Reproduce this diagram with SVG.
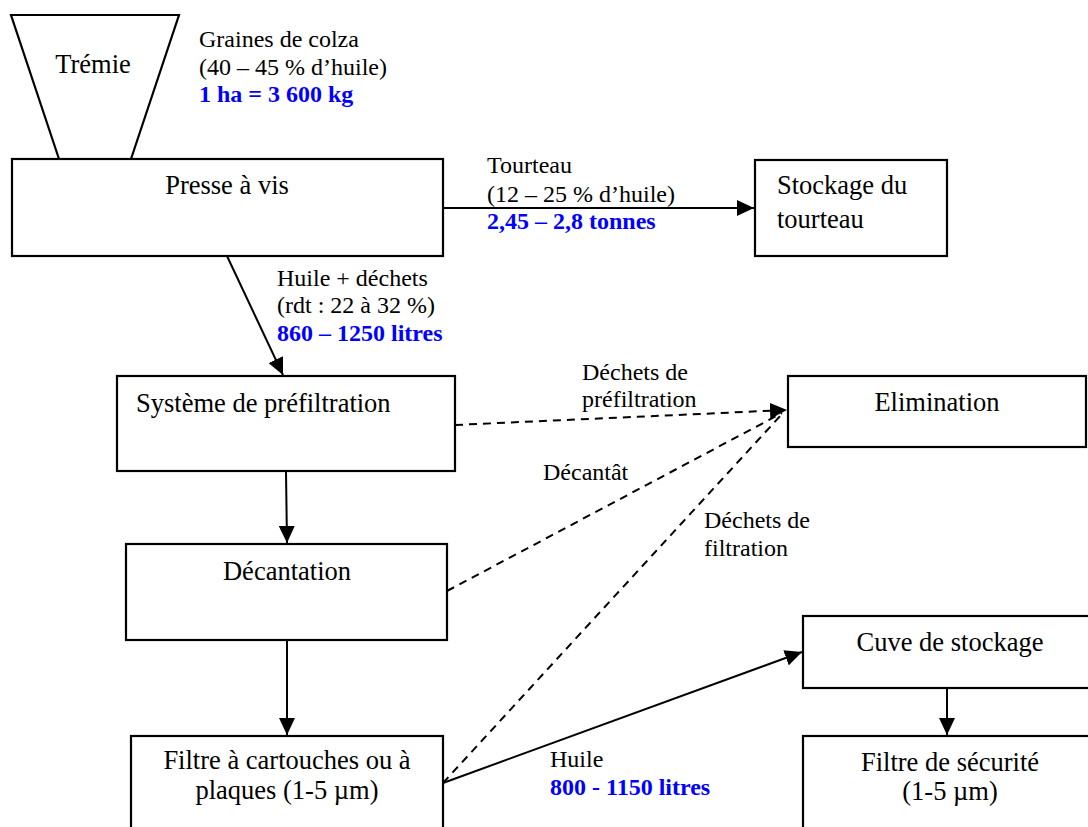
<svg xmlns="http://www.w3.org/2000/svg" width="1088" height="827" viewBox="0 0 1088 827">
<style>
.box{fill:#fff;stroke:#000;stroke-width:2.2}
.main{font-family:"Liberation Serif","Times New Roman",serif;font-size:26.5px;fill:#000}
.lbl{font-family:"Liberation Serif","Times New Roman",serif;font-size:24px;fill:#000}
.blue{font-family:"Liberation Serif","Times New Roman",serif;font-size:24px;font-weight:bold;fill:#0000ff}
.c{text-anchor:middle}
.solid{fill:none;stroke:#000;stroke-width:2}
.dash{fill:none;stroke:#000;stroke-width:2;stroke-dasharray:8,6}
</style>
<defs>
<marker id="arr" markerUnits="userSpaceOnUse" markerWidth="18" markerHeight="16" refX="17" refY="8" orient="auto">
<path d="M0,0 L17,8 L0,16 z" fill="#000"/>
</marker>
</defs>
<rect width="1088" height="827" fill="#fff"/>
<g id="connectors">
<line class="solid" x1="443" y1="208" x2="754" y2="208" marker-end="url(#arr)"/>
<line class="solid" x1="227" y1="256" x2="283" y2="375" marker-end="url(#arr)"/>
<line class="solid" x1="286" y1="472" x2="287" y2="543" marker-end="url(#arr)"/>
<line class="solid" x1="287" y1="640" x2="287" y2="735" marker-end="url(#arr)"/>
<line class="solid" x1="443" y1="783" x2="802" y2="652" marker-end="url(#arr)"/>
<line class="solid" x1="947" y1="688" x2="947" y2="735" marker-end="url(#arr)"/>
<line class="dash" x1="455" y1="425" x2="787" y2="410" marker-end="url(#arr)"/>
<line class="dash" x1="447" y1="591" x2="782" y2="413"/>
<line class="dash" x1="443" y1="783" x2="782" y2="414"/>
</g>
<g id="tremie">
<polygon class="box" points="11,15 179,15 131,159 59,159"/>
<text class="main c" x="93" y="73">Trémie</text>
</g>
<g id="graines-label">
<text class="lbl" x="199" y="47">Graines de colza</text>
<text class="lbl" x="199" y="75">(40 – 45 % d’huile)</text>
<text class="blue" x="199" y="102">1 ha = 3 600 kg</text>
</g>
<g id="presse">
<rect class="box" x="12" y="159" width="431" height="97"/>
<text class="main c" x="227" y="194">Presse à vis</text>
</g>
<g id="tourteau-label">
<text class="lbl" x="487" y="173">Tourteau</text>
<text class="lbl" x="487" y="202">(12 – 25 % d’huile)</text>
<text class="blue" x="487" y="229">2,45 – 2,8 tonnes</text>
</g>
<g id="stockage-tourteau">
<rect class="box" x="755" y="160" width="192" height="96"/>
<text class="main" x="777" y="194">Stockage du</text>
<text class="main" x="777" y="228">tourteau</text>
</g>
<g id="huile-dechets-label">
<text class="lbl" x="277" y="286">Huile + déchets</text>
<text class="lbl" x="277" y="313">(rdt : 22 à 32 %)</text>
<text class="blue" x="277" y="341">860 – 1250 litres</text>
</g>
<g id="prefiltration">
<rect class="box" x="117" y="376" width="338" height="95"/>
<text class="main" x="136" y="412">Système de préfiltration</text>
</g>
<g id="dechets-prefiltration-label">
<text class="lbl" x="582" y="380">Déchets de</text>
<text class="lbl" x="582" y="407">préfiltration</text>
</g>
<g id="elimination">
<rect class="box" x="788" y="376" width="298" height="71"/>
<text class="main c" x="937" y="411">Elimination</text>
</g>
<g id="decantat-label">
<text class="lbl" x="543" y="480">Décantât</text>
</g>
<g id="dechets-filtration-label">
<text class="lbl" x="704" y="528">Déchets de</text>
<text class="lbl" x="704" y="556">filtration</text>
</g>
<g id="decantation">
<rect class="box" x="126" y="544" width="321" height="96"/>
<text class="main c" x="287" y="580">Décantation</text>
</g>
<g id="filtre-cartouches">
<rect class="box" x="131" y="736" width="312" height="110"/>
<text class="main c" x="287" y="769">Filtre à cartouches ou à</text>
<text class="main c" x="287" y="799">plaques (1-5 µm)</text>
</g>
<g id="huile-label">
<text class="lbl" x="550" y="767">Huile</text>
<text class="blue" x="550" y="795">800 - 1150 litres</text>
</g>
<g id="cuve">
<rect class="box" x="803" y="616" width="300" height="72"/>
<text class="main c" x="950" y="651">Cuve de stockage</text>
</g>
<g id="filtre-securite">
<rect class="box" x="803" y="736" width="300" height="110"/>
<text class="main c" x="950" y="771">Filtre de sécurité</text>
<text class="main c" x="950" y="800">(1-5 µm)</text>
</g>
</svg>
